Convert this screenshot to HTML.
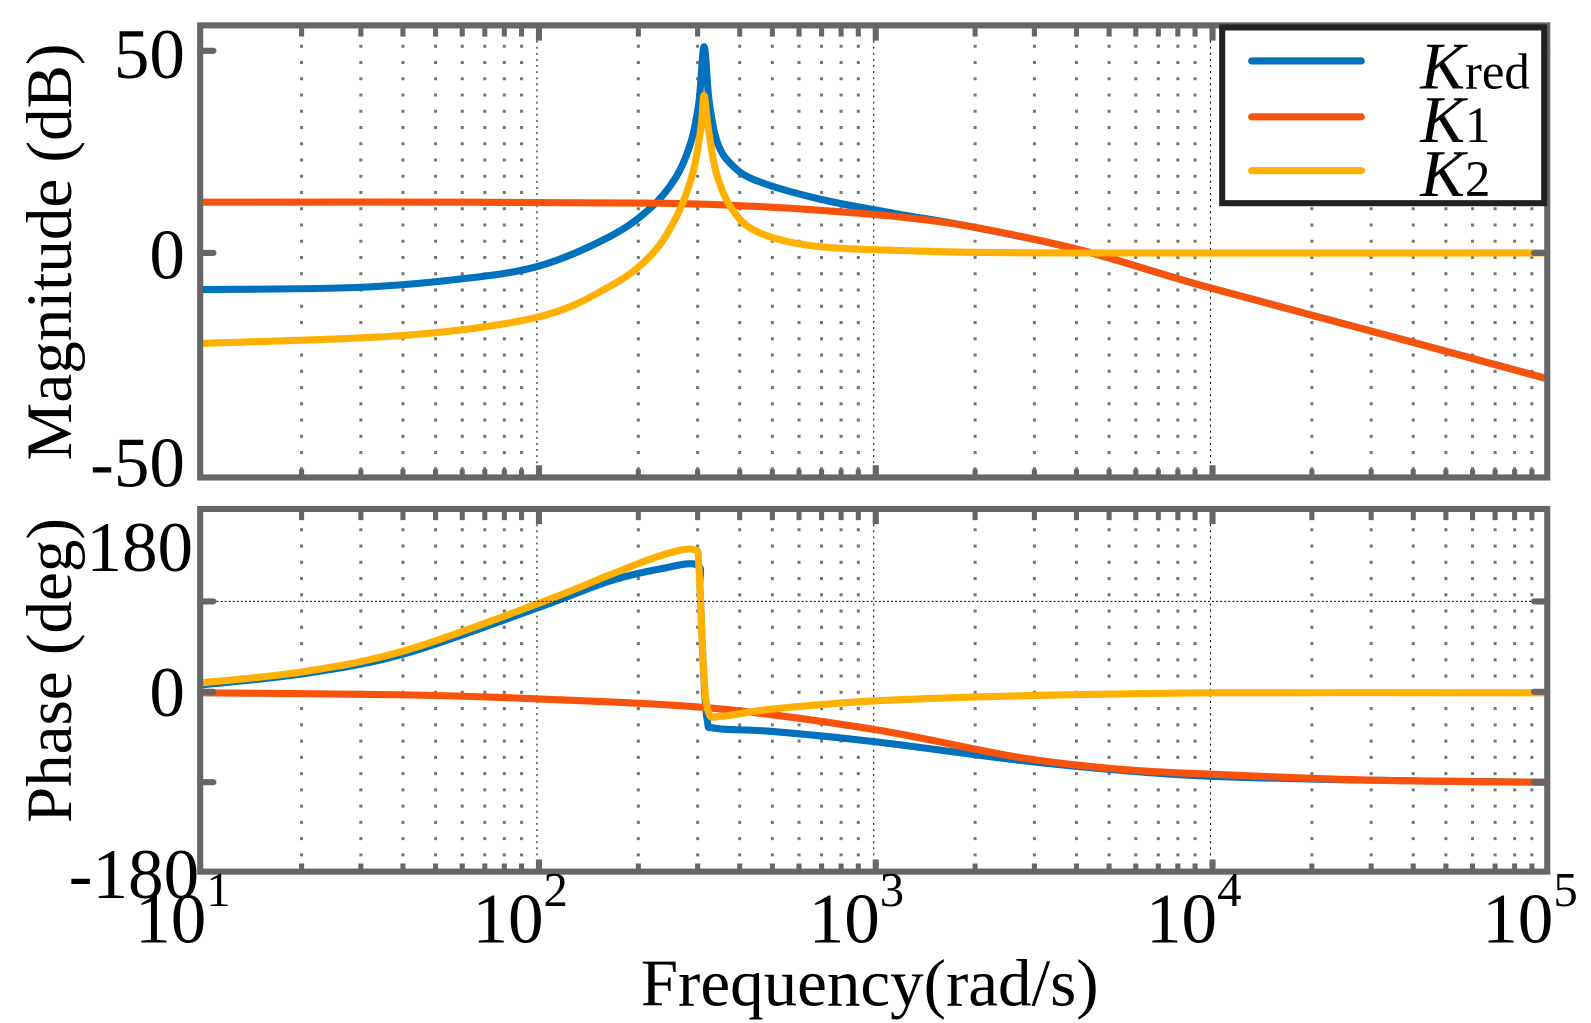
<!DOCTYPE html>
<html><head><meta charset="utf-8">
<style>
html,body{margin:0;padding:0;background:#fff;}
svg{display:block;}
text{font-family:"Liberation Serif",serif;fill:#000;}
</style></head>
<body>
<svg id="s" width="1591" height="1023" viewBox="0 0 1566 1007" xmlns="http://www.w3.org/2000/svg">
<g id="grid"></g>
<g id="curves" fill="none" stroke-linecap="round" stroke-linejoin="round" stroke-width="7"></g>
<rect x="197" y="25" width="1326" height="445" fill="none" stroke="#666" stroke-width="6"/>
<rect x="197" y="501" width="1326" height="357" fill="none" stroke="#666" stroke-width="6"/>
<line x1="197" y1="592" x2="1523" y2="592" stroke="#000" stroke-width="1" stroke-dasharray="2,2"/>
<g stroke="#666" stroke-width="6" stroke-linecap="round">
<line x1="197" y1="249" x2="210" y2="249"/><line x1="1510" y1="249" x2="1523" y2="249"/>
<line x1="197" y1="50" x2="210" y2="50"/><line x1="1510" y1="50" x2="1523" y2="50"/>
<line x1="197" y1="592" x2="210" y2="592"/><line x1="1510" y1="592" x2="1523" y2="592"/>
<line x1="197" y1="681" x2="210" y2="681"/><line x1="1510" y1="681" x2="1523" y2="681"/>
<line x1="197" y1="770" x2="210" y2="770"/><line x1="1510" y1="770" x2="1523" y2="770"/>
</g>
<g font-size="70" text-anchor="end">
<text x="182" y="77">50</text>
<text x="182" y="274">0</text>
<text x="182" y="479">-50</text>
<text x="190" y="562">180</text>
<text x="182" y="705">0</text>
<text x="196" y="884">-180</text>
</g>
<text font-size="64" text-anchor="middle" transform="translate(70,248) rotate(-90)">Magnitude (dB)</text>
<text font-size="64" text-anchor="middle" transform="translate(70,660) rotate(-90)">Phase (deg)</text>
<g font-size="70" text-anchor="middle">
<text x="180" y="928">10<tspan font-size="48" dy="-36">1</tspan></text>
<text x="512" y="928">10<tspan font-size="48" dy="-36">2</tspan></text>
<text x="843" y="928">10<tspan font-size="48" dy="-36">3</tspan></text>
<text x="1175" y="928">10<tspan font-size="48" dy="-36">4</tspan></text>
<text x="1506" y="928">10<tspan font-size="48" dy="-36">5</tspan></text>
<text x="856" y="990" font-size="66">Frequency(rad/s)</text>
</g>
<rect x="1203" y="27" width="317" height="173" fill="#fff" stroke="#222" stroke-width="6"/>
<g stroke-width="7" stroke-linecap="round">
<line x1="1232" y1="60" x2="1340" y2="60" stroke="#0072BD"/>
<line x1="1232" y1="115" x2="1340" y2="115" stroke="#F9530B"/>
<line x1="1232" y1="168" x2="1340" y2="168" stroke="#FFB000"/>
</g>
<g font-size="66">
<text x="1398" y="87"><tspan font-style="italic">K</tspan><tspan font-size="50">red</tspan></text>
<text x="1398" y="140"><tspan font-style="italic">K</tspan><tspan font-size="50">1</tspan></text>
<text x="1398" y="193"><tspan font-style="italic">K</tspan><tspan font-size="50">2</tspan></text>
</g>
</svg>
<script>
var NS="http://www.w3.org/2000/svg";
var g=document.getElementById("grid");
function ln(x1,y1,x2,y2,st,sw,da){var l=document.createElementNS(NS,"line");
l.setAttribute("x1",x1);l.setAttribute("y1",y1);l.setAttribute("x2",x2);l.setAttribute("y2",y2);
l.setAttribute("stroke",st);l.setAttribute("stroke-width",sw);if(da)l.setAttribute("stroke-dasharray",da);g.appendChild(l);}
for(var d=1;d<5;d++){for(var m=1;m<10;m++){var x=197+331.5*(d-1+Math.log10(m));
 if(m==1){ if(d>1){ln(x,28,x,467,"#000",1,"2,4");ln(x,504,x,855,"#000",1,"2,4");} continue;}
 ln(x,28,x,467,"#777",3,"3,13");ln(x,504,x,855,"#777",3,"3,13");
 ln(x,28,x,36,"#666",5);ln(x,462,x,470,"#666",5);ln(x,504,x,512,"#666",5);ln(x,850,x,858,"#666",5);}}
[530.5,862,1193.5].forEach(function(x){ln(x,28,x,40,"#666",6);ln(x,458,x,470,"#666",6);ln(x,504,x,516,"#666",6);ln(x,846,x,858,"#666",6);});
function cr(p){var s="M"+p[0][0]+","+p[0][1];
 for(var i=0;i<p.length-1;i++){var p0=p[i-1]||p[i],p1=p[i],p2=p[i+1],p3=p[i+2]||p2;
  var c1=[p1[0]+(p2[0]-p0[0])/6,p1[1]+(p2[1]-p0[1])/6],c2=[p2[0]-(p3[0]-p1[0])/6,p2[1]-(p3[1]-p1[1])/6];
  s+=" C"+c1[0]+","+c1[1]+" "+c2[0]+","+c2[1]+" "+p2[0]+","+p2[1];}
 return s;}
var cv=document.getElementById("curves");
function path(p,c){var e=document.createElementNS(NS,"path");e.setAttribute("d",cr(p));e.setAttribute("stroke",c);cv.appendChild(e);}
var blue="#0072BD",org="#F9530B",yel="#FFB000";
var k1tail=[[955,223],[1063,246],[1186,282],[1350,326],[1520,372]];
path([[200,285],[350,283],[450,275],[530,262],[600,233],[640,205],[665,175],[680,140],[688,100],[693,46],[698,100],[706,140],[720,162],[745,178],[807,196],[880,210]].concat(k1tail),blue);
path([[200,199],[450,199],[650,200],[740,203],[807,207],[880,213]].concat(k1tail),org);
path([[200,338],[400,330],[530,312],[600,282],[640,252],[665,215],[682,170],[690,125],[693,94],[697,125],[705,170],[720,205],[745,228],[800,242],[900,247],[1050,249],[1520,249]],yel);
path([[200,674],[300,663],[400,643],[530,598],[600,572],[650,560],[686,556],[689,580],[692,650],[696,708],[705,717],[760,720],[860,730],[1000,748],[1100,758],[1190,764],[1350,768],[1520,770]],blue);
path([[200,682],[400,684],[530,688],[700,697],[860,718],[1000,745],[1100,757],[1190,762],[1350,768],[1520,770]],org);
path([[200,672],[300,661],[400,640],[530,594],[600,566],[650,547],[683,541],[688,560],[692,650],[697,700],[710,705],[760,698],[860,690],[1000,685],[1200,682],[1520,682]],yel);
</script>
</body></html>
